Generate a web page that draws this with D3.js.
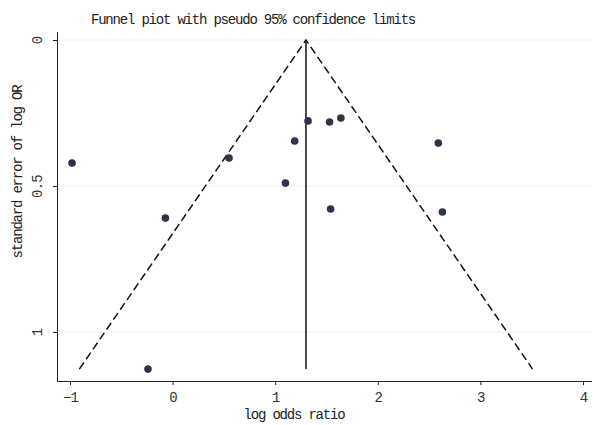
<!DOCTYPE html>
<html><head><meta charset="utf-8">
<script src="https://cdn.jsdelivr.net/npm/d3@7"></script>
<style>body{margin:0;background:#fff}</style>
</head><body>
<svg id="c" width="594" height="425"></svg>
<script>
const logOR = [-0.98, -0.07, 0.55, 1.10, 1.19, 1.32, 1.53, 1.64, 1.54, 2.59, 2.63, -0.24];
const seLogOR = [0.421, 0.61, 0.404, 0.49, 0.346, 0.277, 0.281, 0.267, 0.579, 0.353, 0.589, 1.127];
const pooled = 1.30;
const xTicks = [-1, 0, 1, 2, 3, 4];
const yTicks = [0, 0.5, 1];
const yTickLabels = ["0", "0.5", "1"];
const title = "Funnel piot with pseudo 95% confidence limits";

const svg = d3.select("#c");
const font = "'Liberation Mono', 'DejaVu Sans Mono', monospace";
const x = d3.scaleLinear().domain([-1, 4]).range([70, 583]);
const y = d3.scaleLinear().domain([0, 1]).range([40, 332]);
const L = 57, B = 381, T = 32, R = 592;

// faint gridlines
svg.append("g").selectAll("line").data(yTicks).join("line")
  .attr("x1", L).attr("x2", R).attr("y1", d => y(d)).attr("y2", d => y(d))
  .attr("stroke", "#f0f0f0").attr("stroke-width", 1);

// axes
const xa = svg.append("g").attr("transform", `translate(0,${B})`)
  .call(d3.axisBottom(x).tickValues(xTicks).tickSize(4).tickPadding(7).tickFormat(d3.format("d")));
xa.select(".domain").attr("d", `M${L},0.5H${R}`);
const ya = svg.append("g").attr("transform", `translate(${L},0)`)
  .call(d3.axisLeft(y).tickValues(yTicks).tickSize(4).tickPadding(6).tickFormat((d,i) => yTickLabels[i]));
ya.select(".domain").attr("d", `M0.5,${T}V${B}`);
[xa, ya].forEach(a => {
  a.selectAll("text").attr("font-family", font).attr("font-size", 14).attr("letter-spacing", -0.8).attr("fill", "#333");
  a.selectAll("line, .domain").attr("stroke", "#222");
});
ya.selectAll(".tick text").attr("transform", "rotate(-90)")
  .attr("x", 0).attr("y", -15).attr("dy", "0").attr("text-anchor", "middle");

// funnel
const seMax = d3.max(seLogOR);
svg.append("line").attr("x1", x(pooled)).attr("x2", x(pooled))
  .attr("y1", y(0)).attr("y2", y(seMax)).attr("stroke", "#111").attr("stroke-width", 1.5);
const funnel = [[pooled - 1.96 * seMax, seMax], [pooled, 0], [pooled + 1.96 * seMax, seMax]];
svg.append("path").attr("d", d3.line().x(d => x(d[0])).y(d => y(d[1]))(funnel))
  .attr("fill", "none").attr("stroke", "#111").attr("stroke-width", 1.5).attr("stroke-dasharray", "8,4");

// points
svg.append("g").selectAll("circle").data(logOR).join("circle")
  .attr("cx", d => x(d)).attr("cy", (d, i) => y(seLogOR[i])).attr("r", 3.8)
  .attr("fill", "#2e3447");

// labels
const lab = (s) => s.attr("font-family", font).attr("font-size", 14).attr("letter-spacing", -1.2)
  .attr("fill", "#222").attr("text-anchor", "middle");
svg.append("text").attr("x", 253).attr("y", 24).call(lab).text(title);
svg.append("text").attr("x", 294).attr("y", 419).call(lab).text("log odds ratio");
svg.append("text").attr("transform", "translate(22,172) rotate(-90)").call(lab).text("standard error of log OR");
</script>
</body></html>
